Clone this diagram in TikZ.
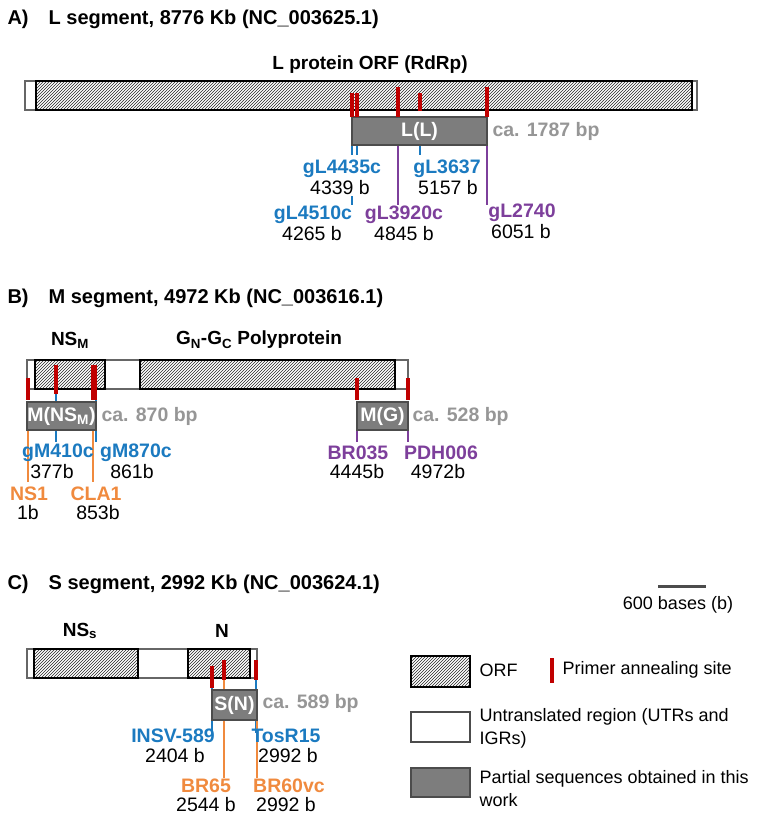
\documentclass[tikz,border=0pt]{standalone}
\usepackage{fontspec}
\setmainfont{Liberation Sans}
\usetikzlibrary{patterns,positioning}
\definecolor{pblue}{RGB}{27,122,192}
\definecolor{ppurple}{RGB}{125,63,155}
\definecolor{porange}{RGB}{240,138,62}
\definecolor{pred}{RGB}{192,0,0}
\definecolor{boxgrey}{RGB}{125,125,125}
\definecolor{txtgrey}{RGB}{150,150,150}
\tikzset{
	seg/.style={draw=black!60,line width=1.3pt,fill=white},
	orf/.style={draw=black,line width=1.5pt,pattern=north east lines,pattern color=black!85},
	part/.style={draw=black!70,line width=1.3pt,fill=boxgrey},
	rtk/.style={pred,line width=3.2pt},
	prim/.style={line width=1.4pt},
	ttl/.style={font=\bfseries\fontsize{20}{24}\selectfont,anchor=west},
	hd/.style={font=\bfseries\fontsize{19}{22}\selectfont},
	pname/.style={font=\bfseries\fontsize{19.5}{22}\selectfont},
	bnum/.style={font=\fontsize{19.5}{22}\selectfont},
	ca/.style={font=\bfseries\fontsize{19.5}{22}\selectfont,text=txtgrey,anchor=west},
	bx/.style={font=\bfseries\fontsize{19.5}{22}\selectfont,text=white},
	leg/.style={font=\fontsize{18}{23}\selectfont,anchor=west},
}
\newcommand\rtick[3]{\draw[rtk] (#1,#2) -- (#1,#3);}
\newcommand\pline[4]{\draw[prim,#1] (#2,#3) -- (#2,#4);}
\begin{document}
\begin{tikzpicture}[x=1pt,y=-1pt]
	\useasboundingbox (0,0) rectangle (776,827);
	% A) L segment
	\node[ttl] (tA) at (4,19) {A)\quad L segment, 8776 Kb (NC\_003625.1)};
	\draw[seg] (25,81) rectangle (697,110);
	\draw[orf] (36,81) rectangle (692,110);
	\node[hd] (hL) at (370,65) {L protein ORF (RdRp)};
	\pline{pblue}{352}{145}{155}
	\pline{pblue}{357}{145}{155}
	\pline{pblue}{420}{145}{155}
	\pline{pblue}{352}{196}{205}
	\pline{ppurple}{398}{145}{205}
	\pline{ppurple}{487}{145}{205}
	\draw[part] (352,117) rectangle (487,145);
	\node[bx] (bL) at (419.5,131) {L(L)};
	\node[ca] (cL) at (489,131) {ca. 1787 bp};
	\rtick{352}{93}{117}\rtick{357}{93}{117}\rtick{398}{87}{117}
	\rtick{420}{93}{111}\rtick{487}{87}{117}
	\node[pname,pblue] (p1) at (342,169) {gL4435c};
	\node[bnum] at (340,188) {4339 b};
	\node[pname,pblue] (p2) at (447,169) {gL3637};
	\node[bnum] at (448,188) {5157 b};
	\node[pname,pblue] (p3) at (313,215) {gL4510c};
	\node[bnum] at (312,234) {4265 b};
	\node[pname,ppurple] (p4) at (404,215) {gL3920c};
	\node[bnum] at (404,234) {4845 b};
	\node[pname,ppurple] (p5) at (522,213) {gL2740};
	\node[bnum] at (521,232) {6051 b};
	% B) M segment
	\node[ttl] (tB) at (4,298) {B)\quad M segment, 4972 Kb (NC\_003616.1)};
	\draw[seg] (27,360) rectangle (408,389);
	\draw[orf] (35,360) rectangle (105,389);
	\draw[orf] (140,360) rectangle (395,389);
	\node[hd] (hNS) at (70,340) {NS\textsubscript{M}};
	\node[hd] (hG) at (259,340) {G\textsubscript{N}-G\textsubscript{C} Polyprotein};
	\pline{pblue}{56}{389}{442}
	\pline{pblue}{96}{389}{442}
	\pline{porange}{28}{430}{482}
	\pline{porange}{93}{430}{482}
	\pline{ppurple}{357}{430}{442}
	\pline{ppurple}{408}{430}{442}
	\draw[part] (27,402) rectangle (96,430);
	\node[bx,inner sep=0pt] (bM1) at (61.5,416) {M(NS\textsubscript{M})};
	\node[ca] (cM1) at (98,416) {ca. 870 bp};
	\draw[part] (357,402) rectangle (408,430);
	\node[bx] (bM2) at (382.5,416) {M(G)};
	\node[ca] (cM2) at (409,416) {ca. 528 bp};
	\rtick{28}{378}{400}\rtick{56}{365}{394}\rtick{93}{365}{400}\rtick{95}{365}{400}
	\rtick{357}{378}{400}\rtick{408}{378}{400}
	\node[pname,pblue] (q1) at (58,453) {gM410c};
	\node[bnum] at (52,472) {377b};
	\node[pname,pblue] (q2) at (136,453) {gM870c};
	\node[bnum] at (132,472) {861b};
	\node[pname,porange] (q3) at (29,494) {NS1};
	\node[bnum] at (28,513) {1b};
	\node[pname,porange] (q4) at (96,494) {CLA1};
	\node[bnum] at (98,513) {853b};
	\node[pname,ppurple] (q5) at (358,453) {BR035};
	\node[bnum] at (357,472) {4445b};
	\node[pname,ppurple] (q6) at (441,453) {PDH006};
	\node[bnum] at (438,472) {4972b};
	% C) S segment
	\node[ttl] (tC) at (4,584) {C)\quad S segment, 2992 Kb (NC\_003624.1)};
	\draw[line width=3pt,black!70] (658,586) -- (706,586);
	\node[leg,anchor=center] (sc) at (678,605) {600 bases (b)};
	\draw[seg] (27,649) rectangle (257,678);
	\draw[orf] (34,649) rectangle (138,678);
	\draw[orf] (188,649) rectangle (250,678);
	\node[hd] (hNSs) at (80,631) {NS\textsubscript{s}};
	\node[hd] (hN) at (222,631) {N};
	\pline{pblue}{212}{678}{733}
	\pline{pblue}{256}{678}{733}
	\pline{porange}{224}{680}{778}
	\pline{porange}{257}{720}{778}
	\draw[part] (212,690) rectangle (257,720);
	\node[bx] (bS) at (234.5,705) {S(N)};
	\node[ca] (cS) at (259,703) {ca. 589 bp};
	\rtick{212}{666}{688}\rtick{224}{660}{680}\rtick{256}{660}{680}
	\node[pname,pblue] (r1) at (173,736) {INSV-589};
	\node[bnum] at (175,756) {2404 b};
	\node[pname,pblue] (r2) at (286,736) {TosR15};
	\node[bnum] at (288,756) {2992 b};
	\node[pname,porange] (r3) at (206,786) {BR65};
	\node[bnum] at (206,805) {2544 b};
	\node[pname,porange] (r4) at (289,786) {BR60vc};
	\node[bnum] at (286,805) {2992 b};
	% legend
	\draw[orf] (411,656) rectangle (470,687);
	\node[leg] (l1) at (476,670) {ORF};
	\rtick{552}{658}{683}
	\node[leg] (l2) at (559,670) {Primer annealing site};
	\draw[seg,draw=black!70] (411,712) rectangle (470,742);
	\node[leg,align=left] (l3) at (476,728) {Untranslated region (UTRs and\\IGRs)};
	\draw[part] (411,768) rectangle (470,797);
	\node[leg,align=left] (l4) at (476,789) {Partial sequences obtained in this\\work};
\end{tikzpicture}
\end{document}
